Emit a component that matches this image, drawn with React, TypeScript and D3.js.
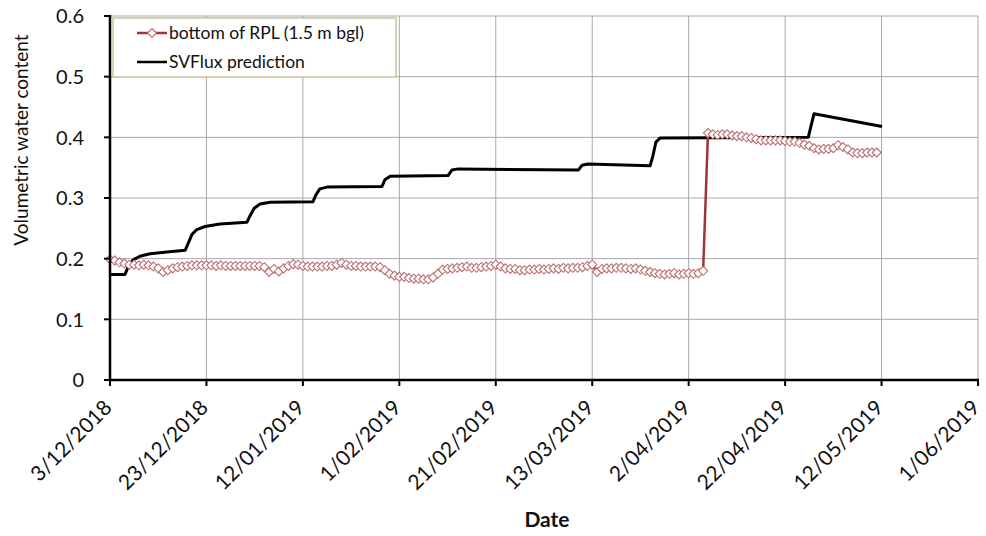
import React from 'react';
import * as d3 from 'd3';

const START_DATE = '3/12/2018';
const END_DATE = '1/06/2019';
const xTickLabels = ['3/12/2018', '23/12/2018', '12/01/2019', '1/02/2019', '21/02/2019', '13/03/2019', '2/04/2019', '22/04/2019', '12/05/2019', '1/06/2019'];
const yTicks = [0, 0.1, 0.2, 0.3, 0.4, 0.5, 0.6];
const yTickLabels = ['0', '0.1', '0.2', '0.3', '0.4', '0.5', '0.6'];

// observed daily values, bottom of RPL (1.5 m bgl), from 3/12/2018
const obsValues = [
  0.199, 0.197, 0.194, 0.192, 0.190, 0.190, 0.189, 0.190, 0.189, 0.187,
  0.184, 0.178, 0.181, 0.184, 0.186, 0.187, 0.188, 0.189, 0.189, 0.189,
  0.189, 0.189, 0.188, 0.189, 0.188, 0.188, 0.188, 0.188, 0.188, 0.188,
  0.188, 0.188, 0.186, 0.178, 0.183, 0.179, 0.184, 0.188, 0.191, 0.190,
  0.188, 0.187, 0.187, 0.187, 0.187, 0.188, 0.188, 0.190, 0.193, 0.190,
  0.188, 0.188, 0.187, 0.187, 0.187, 0.187, 0.186, 0.181, 0.175, 0.172,
  0.170, 0.170, 0.168, 0.167, 0.167, 0.166, 0.166, 0.169, 0.175, 0.182,
  0.183, 0.184, 0.185, 0.186, 0.187, 0.185, 0.185, 0.186, 0.187, 0.188,
  0.190, 0.187, 0.184, 0.183, 0.183, 0.181, 0.181, 0.182, 0.182, 0.183,
  0.182, 0.183, 0.184, 0.183, 0.185, 0.184, 0.185, 0.185, 0.186, 0.188,
  0.190, 0.178, 0.183, 0.184, 0.184, 0.185, 0.185, 0.184, 0.183, 0.184,
  0.182, 0.180, 0.178, 0.176, 0.175, 0.174, 0.175, 0.176, 0.174, 0.175,
  0.176, 0.175, 0.176, 0.180,
  0.407, 0.405, 0.404, 0.405, 0.405, 0.403, 0.402, 0.402, 0.400, 0.399,
  0.397, 0.395, 0.395, 0.395, 0.395, 0.395, 0.394, 0.393, 0.393, 0.391,
  0.388, 0.386, 0.382, 0.380, 0.381, 0.381, 0.382, 0.387, 0.384, 0.380,
  0.375, 0.374, 0.374, 0.375, 0.375, 0.375,
];

// SVFlux prediction: day offset from 3/12/2018 and value
const svDays = [0, 3.1, 3.7, 4.8, 6.2, 8.3, 11.8, 15.6, 16.2, 17, 18, 19.7, 22.8, 28.4, 29, 29.9, 31.1, 33.2, 42.1, 42.7, 43.5, 45, 56.4, 57, 58.1, 70.1, 70.9, 72.2, 97.1, 97.9, 99.1, 112, 112.6, 113.2, 114.1, 144.8, 146, 160.1];
const svValues = [0.174, 0.174, 0.185, 0.198, 0.204, 0.208, 0.211, 0.214, 0.225, 0.24, 0.248, 0.253, 0.257, 0.26, 0.27, 0.283, 0.29, 0.293, 0.294, 0.305, 0.315, 0.318, 0.319, 0.33, 0.336, 0.337, 0.346, 0.348, 0.346, 0.354, 0.356, 0.353, 0.37, 0.392, 0.399, 0.4, 0.439, 0.418];

const legendLabels = ['bottom of RPL (1.5 m bgl)', 'SVFlux prediction'];

const parseDMY = (s: string) => {
  const [d, m, y] = s.split('/').map(Number);
  return new Date(Date.UTC(y, m - 1, d));
};
const DAY = 86400000;
const start = parseDMY(START_DATE);
const dayToDate = (d: number) => new Date(start.getTime() + d * DAY);

const W = 986, H = 536;
const M = { left: 110, right: 978, top: 16, bottom: 380 };
const FONT = "Lato, 'Open Sans', sans-serif";

export default function App() {
  const x = d3.scaleUtc().domain([start, parseDMY(END_DATE)]).range([M.left, M.right]);
  const y = d3.scaleLinear().domain([0, 0.6]).range([M.bottom, M.top]);

  const obs = obsValues.map((v, i) => ({ date: dayToDate(i), v }));
  const sv = svDays.map((d, i) => ({ date: dayToDate(d), v: svValues[i] }));

  const line = d3.line<{ date: Date; v: number }>().x(d => x(d.date)).y(d => y(d.v));
  const diamond = 'M0,-4.5L4.5,0L0,4.5L-4.5,0Z';
  const obsLineColor = '#9e3436';
  const markerColor = '#bb6f70';

  return (
    <svg width={W} height={H} style={{ position: 'absolute', left: 0, top: 0, background: '#fff' }} fontFamily={FONT}>
      <rect x={0} y={0} width={W} height={H} fill="#fff" />
      {/* grid */}
      {yTicks.slice(1).map(t => (
        <line key={'gy' + t} x1={M.left} x2={M.right} y1={y(t)} y2={y(t)} stroke="#a8a8a8" strokeWidth={1} />
      ))}
      {xTickLabels.slice(1).map(l => (
        <line key={'gx' + l} x1={x(parseDMY(l))} x2={x(parseDMY(l))} y1={M.top} y2={M.bottom} stroke="#a8a8a8" strokeWidth={1} />
      ))}
      {/* series */}
      <path d={line(sv) || ''} fill="none" stroke="#000" strokeWidth={3} strokeLinejoin="round" />
      <path d={line(obs) || ''} fill="none" stroke={obsLineColor} strokeWidth={2.5} />
      {obs.map((d, i) => (
        <path key={i} d={diamond} transform={`translate(${x(d.date)},${y(d.v)})`} fill="#fff" stroke={markerColor} strokeWidth={1.1} />
      ))}
      {/* axes */}
      <line x1={M.left} x2={M.left} y1={M.top - 1} y2={M.bottom + 1} stroke="#000" strokeWidth={2.5} />
      <line x1={M.left - 1} x2={M.right + 1} y1={M.bottom} y2={M.bottom} stroke="#000" strokeWidth={2.5} />
      {yTicks.map((t, i) => (
        <g key={'yt' + t}>
          <line x1={M.left - 6} x2={M.left} y1={y(t)} y2={y(t)} stroke="#000" strokeWidth={2} />
          <text x={84} y={y(t)} dy="0.36em" textAnchor="end" fontSize={20} fill="#111">{yTickLabels[i]}</text>
        </g>
      ))}
      {xTickLabels.map(l => {
        const px = x(parseDMY(l));
        return (
          <g key={'xt' + l}>
            <line x1={px} x2={px} y1={M.bottom} y2={M.bottom + 6} stroke="#000" strokeWidth={2} />
            <text transform={`translate(${px + 3},${M.bottom + 29}) rotate(-45)`} textAnchor="end" fontSize={21} fill="#111">{l}</text>
          </g>
        );
      })}
      {/* axis titles */}
      <text transform={`translate(28,140) rotate(-90)`} textAnchor="middle" fontSize={19} fill="#111">Volumetric water content</text>
      <text x={547} y={527} textAnchor="middle" fontSize={21} fontWeight="bold" fill="#111">Date</text>
      {/* legend */}
      <rect x={113} y={18} width={283} height={59} fill="#fff" stroke="#c8c29c" strokeWidth={1.5} />
      <line x1={137} x2={167} y1={33} y2={33} stroke={obsLineColor} strokeWidth={2.5} />
      <path d={diamond} transform="translate(152,33)" fill="#fff" stroke={markerColor} strokeWidth={1.1} />
      <text x={169} y={33} dy="0.36em" fontSize={17.5} fill="#111">{legendLabels[0]}</text>
      <line x1={137} x2={167} y1={62} y2={62} stroke="#000" strokeWidth={2.5} />
      <text x={169} y={62} dy="0.36em" fontSize={17.5} fill="#111">{legendLabels[1]}</text>
    </svg>
  );
}
